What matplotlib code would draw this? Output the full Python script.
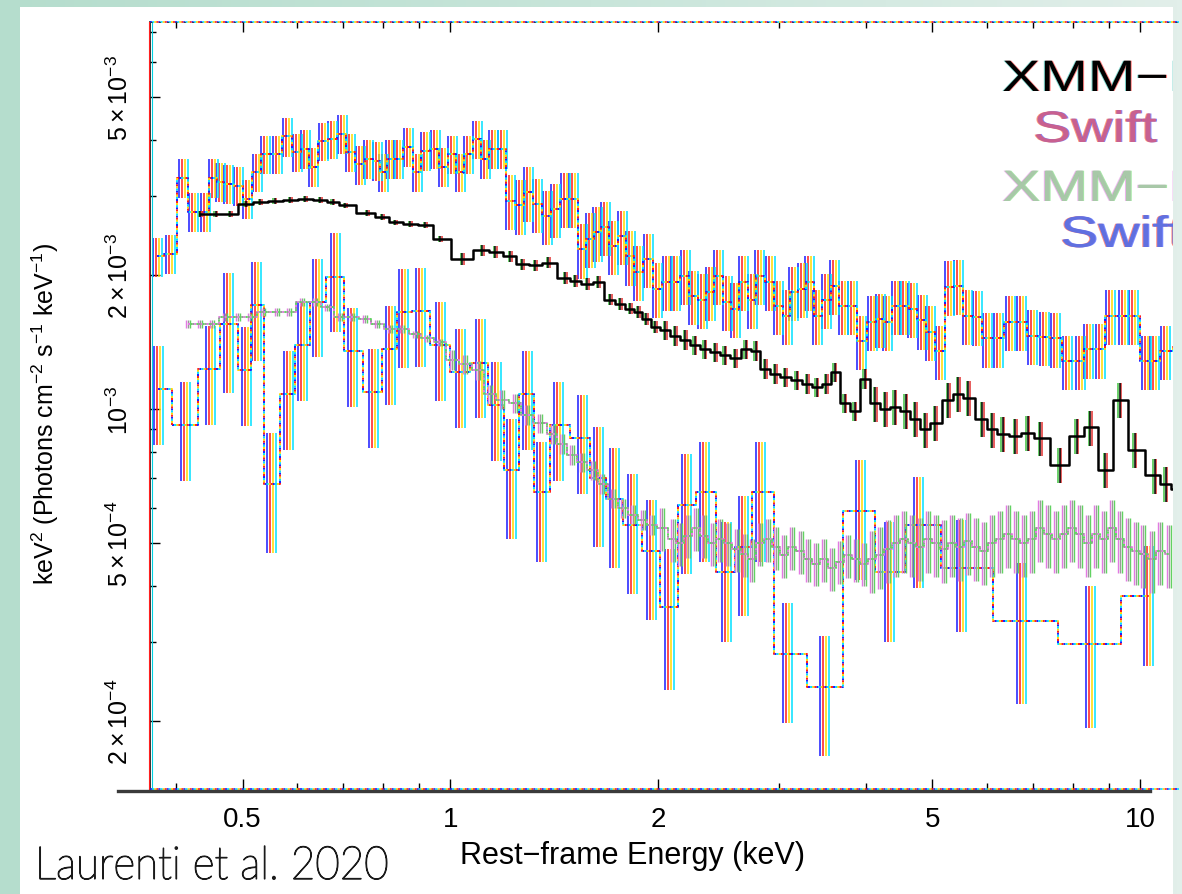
import numpy as np
import matplotlib
matplotlib.use('Agg')
import matplotlib.pyplot as plt
from matplotlib.transforms import offset_copy, Affine2D
from matplotlib.textpath import TextPath
from matplotlib.patches import PathPatch, Rectangle
from matplotlib.font_manager import FontProperties
from matplotlib.lines import Line2D
from matplotlib.colors import LinearSegmentedColormap
from matplotlib.ticker import LogLocator, NullFormatter

W, H = 1182, 895

# XMM-Newton, high state (black)
xmm_hi_e = [0.434, 0.457, 0.480, 0.505, 0.530, 0.557, 0.586, 0.616, 0.648, 0.676,
            0.704, 0.758, 0.797, 0.832, 0.875, 0.920, 0.967, 1.041, 1.113, 1.162,
            1.222, 1.272, 1.328, 1.387, 1.468, 1.517, 1.58, 1.638, 1.706, 1.763,
            1.823, 1.873, 1.924, 1.982, 2.05, 2.12, 2.19, 2.26, 2.34, 2.42,
            2.50, 2.59, 2.68, 2.77, 2.86, 2.96, 3.06, 3.18, 3.29, 3.40,
            3.51, 3.61, 3.73, 3.86, 3.99, 4.13, 4.27, 4.41, 4.57, 4.72,
            4.88, 5.05, 5.27, 5.45, 5.63, 5.90, 6.10, 6.32, 6.59, 6.87,
            7.16, 7.65, 8.10, 8.46, 8.90, 9.35, 9.83, 10.5, 10.9, 11.3]
xmm_hi_f = [2.74, 2.74, 2.74, 2.88, 2.91, 2.93, 2.94, 2.96, 2.94, 2.91,
            2.86, 2.75, 2.69, 2.62, 2.60, 2.59, 2.41, 2.17, 2.27, 2.25,
            2.20, 2.11, 2.10, 2.13, 1.97, 1.94, 1.91, 1.93, 1.76, 1.72,
            1.68, 1.65, 1.59, 1.53, 1.50, 1.46, 1.43, 1.39, 1.36, 1.34,
            1.32, 1.30, 1.36, 1.35, 1.23, 1.20, 1.18, 1.16, 1.14, 1.12,
            1.14, 1.21, 1.03, 0.99, 1.17, 1.03, 1.00, 1.01, 0.99, 0.95,
            0.90, 0.93, 1.05, 1.08, 1.06, 0.95, 0.90, 0.88, 0.87, 0.885,
            0.86, 0.75, 0.87, 0.91, 0.73, 1.05, 0.81, 0.71, 0.68, 0.66]  # x1e-3
xmm_hi_err = [(1.0, 0.015), (2.0, 0.03), (4.0, 0.05), (20.0, 0.09)]

# Swift, high state
swift_hi_e = [0.376, 0.393, 0.410, 0.424, 0.442, 0.453, 0.464, 0.477, 0.493, 0.508,
              0.525, 0.539, 0.561, 0.580, 0.600, 0.616, 0.633, 0.654, 0.675, 0.697,
              0.716, 0.741, 0.761, 0.784, 0.800, 0.819, 0.840, 0.869, 0.896, 0.920,
              0.951, 0.977, 1.007, 1.034, 1.062, 1.094, 1.124, 1.154, 1.190, 1.222,
              1.263, 1.297, 1.337, 1.382, 1.419, 1.468, 1.507, 1.553, 1.595, 1.633,
              1.678, 1.723, 1.775, 1.823, 1.873, 1.936, 1.995, 2.063, 2.119, 2.190,
              2.250, 2.318, 2.381, 2.446, 2.520, 2.588, 2.66, 2.74, 2.81, 2.91,
              2.99, 3.08, 3.14, 3.24, 3.32, 3.41, 3.51, 3.61, 3.71, 3.83,
              3.95, 4.09, 4.20, 4.31, 4.44, 4.56, 4.68, 4.83, 4.96, 5.13,
              5.30, 5.45, 5.62, 5.81, 6.00, 6.23, 6.48, 6.74, 6.99, 7.26,
              7.53, 7.86, 8.19, 8.41, 8.75, 9.05, 9.45, 9.77, 10.2, 10.5,
              10.9, 11.4]
swift_hi_f = [2.20, 2.23, 3.30, 2.77, 2.77, 3.30, 3.23, 3.20, 3.17, 2.96,
              3.40, 3.73, 3.73, 4.09, 3.77, 3.83, 3.49, 3.99, 4.03, 4.14,
              3.77, 3.54, 3.64, 3.60, 3.40, 3.64, 3.64, 3.87, 3.40, 3.79,
              3.83, 3.49, 3.73, 3.40, 3.73, 4.03, 3.64, 3.83, 3.83, 2.93,
              2.86, 3.06, 2.88, 2.71, 2.81, 2.96, 2.96, 2.28, 2.41, 2.49,
              2.56, 2.32, 2.44, 2.20, 2.03, 2.17, 1.86, 1.93, 1.93, 1.99,
              1.79, 1.76, 1.83, 1.99, 1.74, 1.68, 1.93, 1.76, 1.99, 1.93,
              1.70, 1.62, 1.83, 1.86, 1.93, 1.62, 1.76, 1.89, 1.70, 1.70,
              1.42, 1.57, 1.59, 1.57, 1.70, 1.70, 1.68, 1.58, 1.49, 1.35,
              1.88, 1.89, 1.62, 1.61, 1.44, 1.44, 1.57, 1.57, 1.46, 1.45,
              1.44, 1.28, 1.28, 1.36, 1.36, 1.62, 1.62, 1.62, 1.28, 1.28,
              1.35, 1.38]  # x1e-3
swift_hi_err = [(1.2, 0.10), (20.0, 0.14)]

# XMM-Newton, low state
xmm_lo_e = [0.417, 0.434, 0.452, 0.472, 0.493, 0.513, 0.535, 0.560, 0.584, 0.610,
            0.637, 0.663, 0.693, 0.721, 0.753, 0.784, 0.819, 0.852, 0.890, 0.926,
            0.967, 1.007, 1.051, 1.098, 1.143, 1.19, 1.24, 1.29, 1.35, 1.41,
            1.45, 1.50, 1.55, 1.61, 1.66, 1.72, 1.78, 1.84, 1.90, 1.96,
            2.03, 2.10, 2.15, 2.21, 2.27, 2.33, 2.40, 2.46, 2.53, 2.60,
            2.67, 2.74, 2.81, 2.89, 2.97, 3.05, 3.13, 3.22, 3.30, 3.39,
            3.48, 3.58, 3.67, 3.77, 3.88, 3.98, 4.09, 4.20, 4.31, 4.43,
            4.55, 4.67, 4.80, 4.93, 5.06, 5.20, 5.34, 5.48, 5.63, 5.78,
            5.94, 6.10, 6.27, 6.44, 6.61, 6.79, 6.97, 7.16, 7.35, 7.55,
            7.76, 7.97, 8.19, 8.41, 8.63, 8.87, 9.11, 9.35, 9.61, 9.87,
            10.1, 10.4, 10.7, 11.0]
xmm_lo_f = [15.5, 15.5, 15.5, 16.1, 16.1, 16.1, 16.5, 16.5, 16.5, 17.4,
            17.4, 16.9, 16.1, 16.1, 15.9, 15.5, 15.1, 15.1, 14.7, 14.4,
            14.1, 12.9, 12.6, 12.2, 10.8, 10.5, 10.3, 9.7, 9.3, 8.8,
            8.35, 7.9, 7.6, 7.3, 6.8, 6.3, 6.0, 5.8, 5.65, 5.5,
            5.4, 5.1, 5.0, 5.2, 5.4, 5.2, 5.0, 5.1, 5.0, 4.85,
            4.73, 4.6, 5.0, 5.1, 4.9, 4.7, 4.9, 4.8, 4.6, 4.5,
            4.6, 4.4, 4.55, 4.7, 4.6, 4.5, 4.6, 4.7, 4.85, 5.0,
            5.1, 5.0, 4.9, 5.1, 5.0, 4.85, 5.0, 4.9, 5.05, 4.9,
            4.8, 5.0, 5.1, 5.25, 5.1, 5.0, 5.1, 5.4, 5.25, 5.1,
            5.25, 5.4, 5.25, 5.0, 5.25, 5.1, 5.4, 5.1, 4.9, 4.8,
            4.73, 4.6, 4.8, 4.73]  # x1e-4
xmm_lo_err = [(1.0, 0.02), (2.0, 0.05), (4.0, 0.11), (20.0, 0.16)]

# Swift, low state
swift_lo_e = [0.377, 0.413, 0.449, 0.477, 0.506, 0.523, 0.550, 0.582, 0.610, 0.641,
              0.681, 0.721, 0.773, 0.819, 0.855, 0.905, 0.967, 1.034, 1.105, 1.166,
              1.226, 1.293, 1.354, 1.433, 1.553, 1.638, 1.73, 1.835, 1.955, 2.077,
              2.20, 2.34, 2.51, 2.66, 2.82, 3.08, 3.49, 3.93, 4.33, 4.78,
              5.5, 6.72, 8.46, 10.3]
swift_lo_f = [11.1, 9.2, 12.3, 15.5, 12.2, 17.1, 6.8, 10.8, 13.9, 17.4,
              19.8, 13.5, 10.9, 13.6, 16.5, 16.6, 13.9, 12.1, 12.7, 10.2,
              7.3, 10.8, 6.5, 9.2, 8.6, 7.0, 6.3, 5.5, 4.8, 3.6,
              6.1, 6.5, 4.3, 4.9, 6.5, 2.82, 2.38, 5.9, 4.3, 5.5,
              4.4, 3.35, 2.97, 3.8]  # x1e-4
swift_lo_frac = [0.25, 0.25, 0.25, 0.3, 0.25, 0.25, 0.3, 0.25, 0.25, 0.25,
                 0.25, 0.25, 0.25, 0.25, 0.25, 0.25, 0.25, 0.25, 0.25, 0.25,
                 0.3, 0.25, 0.3, 0.25, 0.25, 0.3, 0.3, 0.3, 0.3, 0.35,
                 0.3, 0.3, 0.3, 0.3, 0.3, 0.3, 0.3, 0.3, 0.3, 0.28,
                 0.28, 0.35, 0.35, 0.3]

legend_labels = ['XMM\u2212Newton', 'Swift XRT', 'XMM\u2212Newton', 'Swift XRT']
xtick_vals = [0.5, 1, 2, 5, 10]
xtick_labels = ['0.5', '1', '2', '5', '10']
ytick_vals = [2e-4, 5e-4, 1e-3, 2e-3, 5e-3]
ytick_labels = [r'$2\times10^{-4}$', r'$5\times10^{-4}$', r'$10^{-3}$',
                r'$2\times10^{-3}$', r'$5\times10^{-3}$']

# colour fringes (the scan has shifted colour channels)
SW = [(-4.5, '#1a1aff'), (-1.5, '#ff1a1a'), (1.5, '#ffd800'), (4.5, '#00e0ff')]
XL = [(-2.0, '#e27ae2'), (0.0, '#9a9a9a'), (2.0, '#62d262')]
BK = [(-1.5, '#40c040'), (1.5, '#e03030'), (0.0, '#000000')]

plt.rcParams['font.family'] = ['Liberation Sans', 'DejaVu Sans']
plt.rcParams['mathtext.fontset'] = 'custom'
plt.rcParams['mathtext.rm'] = 'Liberation Sans'
plt.rcParams['mathtext.it'] = 'Liberation Sans:italic'
plt.rcParams['mathtext.bf'] = 'Liberation Sans:bold'
plt.rcParams['lines.scale_dashes'] = False


def band_err(e, f, bands):
    out = []
    for ei, fi in zip(e, f):
        for emax, frac in bands:
            if ei < emax:
                out.append(fi * frac)
                break
    return np.array(out)


fig = plt.figure(figsize=(W / 100, H / 100), dpi=100)

# slide background + white panel
bg = fig.add_axes([0, 0, 1, 1], zorder=-10)
cmap = LinearSegmentedColormap.from_list('mint', ['#b5ddcd', '#c8e5da', '#e2efea'])
bg.imshow(np.linspace(0, 1, 256)[None, :], cmap=cmap, aspect='auto', extent=[0, 1, 0, 1])
bg.axis('off')
fig.add_artist(Rectangle((20 / W, 0), (1173 - 20) / W, (H - 8) / H, transform=fig.transFigure,
                         facecolor='white', edgecolor='none', zorder=-5))

ax = fig.add_axes([150 / W, 105 / H, (1173 - 150) / W, (790 - 23) / H])
ax.set_facecolor('none')
ax.set_xscale('log')
ax.set_yscale('log')
x0, x1 = 0.367, 11.16
y0, y1 = 1.406e-4, 7.375e-3
ax.set_xlim(x0, x1)
ax.set_ylim(y0, y1)


def shift(dx):
    return offset_copy(ax.transData, fig=fig, x=dx, y=0, units='dots')


def bars(e, f, err, layers, lw, z):
    e, f, err = np.asarray(e), np.asarray(f), np.asarray(err)
    for dx, col in layers:
        ax.vlines(e, f - err, f + err, colors=col, lw=lw, transform=shift(dx), zorder=z)


def steps(e, f, layers, lw, z, on=1.5):
    n = len(layers)
    for i, (dx, col) in enumerate(layers):
        ax.step(e, f, where='mid', color=col, lw=lw, ls=(i * on, (on, (n - 1) * on)),
                transform=shift(0), zorder=z)


# Swift high
e = np.array(swift_hi_e); f = np.array(swift_hi_f) * 1e-3
bars(e, f, band_err(e, f, swift_hi_err), SW, 1.1, 2)
steps(e, f, SW, 1.4, 2)

# Swift low
e = np.array(swift_lo_e); f = np.array(swift_lo_f) * 1e-4
bars(e, f, f * np.array(swift_lo_frac), SW, 1.1, 2)
steps(e, f, SW, 1.4, 2)

# XMM low
e = np.array(xmm_lo_e); f = np.array(xmm_lo_f) * 1e-4
bars(e, f, band_err(e, f, xmm_lo_err), XL, 1.0, 3)
steps(e, f, XL, 1.4, 3)

# XMM high
e = np.array(xmm_hi_e); f = np.array(xmm_hi_f) * 1e-3
bars(e, f, band_err(e, f, xmm_hi_err), BK, 1.1, 4)
ax.step(e, f, where='mid', color='black', lw=1.8, zorder=4)

# axes frame
for s in ['top', 'right', 'bottom']:
    ax.spines[s].set_visible(False)
ax.spines['left'].set_color('#111111')
ax.spines['left'].set_linewidth(1.2)
for dx, col in [(-1.5, '#ff2020'), (1.5, '#00d0e0')]:
    ax.plot([x0, x0], [y0, y1], color=col, lw=0.8, transform=shift(dx), clip_on=False, zorder=5)
for yy in (y0, y1):
    for i, (dx, col) in enumerate(SW):
        ax.plot([x0, x1 * 1.02], [yy, yy], color=col, lw=1.2, ls=(i * 1.5, (1.5, 4.5)),
                clip_on=False, zorder=5)
ax.plot([x0, x1 * 1.02], [y1, y1], color='#333333', lw=0.6, ls=(0, (1.5, 4.5)), clip_on=False, zorder=5)
fig.add_artist(Line2D([118 / W, 1150 / W], [1 - 792 / H] * 2, transform=fig.transFigure,
                      color='#3a3a3a', lw=2.4, zorder=6))

# ticks
ax.set_xticks(xtick_vals)
ax.set_xticklabels(xtick_labels)
ax.xaxis.set_minor_locator(LogLocator(base=10, subs=np.arange(2, 10)))
ax.xaxis.set_minor_formatter(NullFormatter())
ax.set_yticks(ytick_vals)
ax.set_yticklabels(ytick_labels)
ax.yaxis.set_minor_locator(LogLocator(base=10, subs=np.arange(2, 10)))
ax.yaxis.set_minor_formatter(NullFormatter())
ax.tick_params(which='both', direction='in', top=True, right=False, color='black', width=1)
ax.tick_params(which='major', length=7)
ax.tick_params(which='minor', length=4)
ax.tick_params(axis='x', labelsize=20, pad=12)
ax.tick_params(axis='y', labelsize=18, pad=12, labelrotation=90)
for lab in ax.get_yticklabels():
    lab.set_va('center')
    lab.set_ha('right')

fig.text(45 / W, 1 - 414 / H, r'keV$^2$ (Photons cm$^{-2}$ s$^{-1}$ keV$^{-1}$)',
         rotation=90, ha='center', va='center', fontsize=18)
fig.text(632 / W, 1 - 864 / H, 'Rest\u2212frame Energy (keV)', ha='center', va='baseline', fontsize=22)


def wide_text(s, x, ybase, size, sx, layers, family='Liberation Sans', weight='normal',
              clip=True, z=6, edge=0.0):
    tp = TextPath((0, 0), s, size=size, prop=FontProperties(family=family, weight=weight))
    for dx, col, a in layers:
        tr = Affine2D().scale(sx, 1).translate(x + dx, H - ybase)
        p = PathPatch(tp, transform=tr, facecolor=col, edgecolor=col if edge else 'none',
                      lw=edge, alpha=a, zorder=z)
        if clip:
            ax.add_artist(p)
        else:
            fig.add_artist(p)
    return tp


# legend (cut off at the right edge)
leg_x = [1002, 1033, 1002, 1060]
leg_base = [92, 143, 202, 248]
leg_layers = [
    [(-1.0, '#30c0b0', 0.6), (1.0, '#ff3030', 0.6), (0, '#000000', 1.0)],
    [(-1.0, '#ff6020', 0.6), (1.0, '#3040ff', 0.6), (0, '#c86090', 1.0)],
    [(-1.0, '#e070e0', 0.5), (1.0, '#50d050', 0.5), (0, '#a8c8a8', 1.0)],
    [(-1.0, '#ff4030', 0.6), (1.0, '#2040ff', 0.6), (0, '#6070e0', 1.0)],
]
for s, x, yb, lay in zip(legend_labels, leg_x, leg_base, leg_layers):
    wide_text(s, x, yb, 44, 1.3, lay)

# citation (handwritten in the original)
fp = FontProperties(family='Lato', weight='light')
w0 = TextPath((0, 0), 'Laurenti et al. 2020', size=46, prop=fp).get_extents().width
wide_text('Laurenti et al. 2020', 35, 880, 46, 347 / w0, [(0, '#1a1a1a', 1.0)],
          family='Lato', weight='light', clip=False, edge=0.9)

fig.savefig('out.png', dpi=100)
